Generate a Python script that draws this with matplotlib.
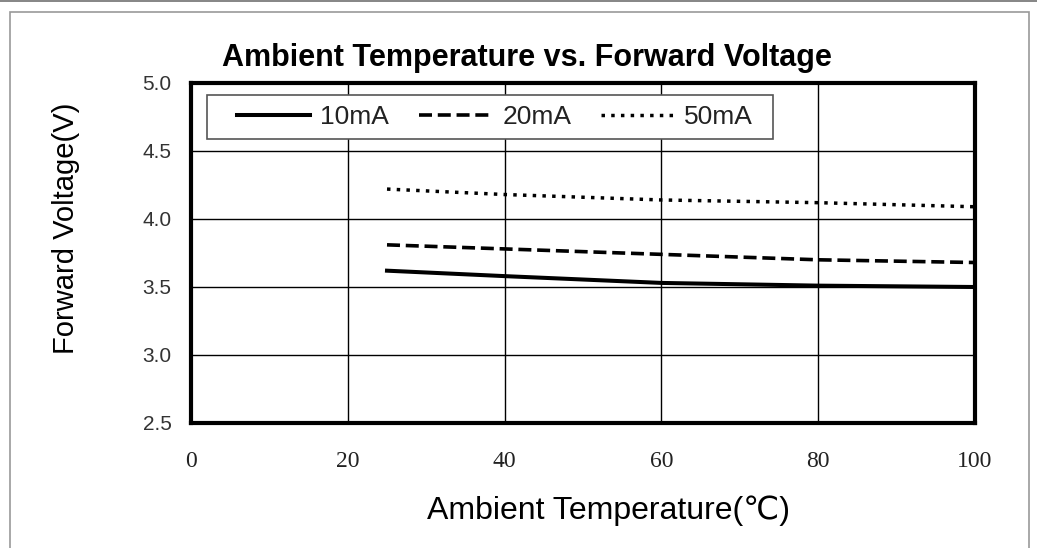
import numpy as np
import matplotlib.pyplot as plt
from matplotlib.patches import Rectangle

# values
temps = [25, 40, 60, 80, 100]
vf_10ma = [3.62, 3.58, 3.53, 3.51, 3.50]
vf_20ma = [3.81, 3.78, 3.74, 3.70, 3.68]
vf_50ma = [4.22, 4.18, 4.14, 4.12, 4.09]

x_ticks = [0, 20, 40, 60, 80, 100]
y_ticks = [2.5, 3.0, 3.5, 4.0, 4.5, 5.0]

sans = ['Liberation Sans', 'DejaVu Sans']

fig = plt.figure(figsize=(10.37, 5.48), dpi=100)
ax = fig.add_axes([191 / 1037, 1 - 423 / 548, (975 - 191) / 1037, (423 - 83) / 548])

# outer frame of the picture
fig.patches.append(Rectangle((0, 1 - 2 / 548), 1, 2 / 548, transform=fig.transFigure,
                             facecolor='#888888', edgecolor='none'))
fig.patches.append(Rectangle((10 / 1037, -0.01), 1019 / 1037, 1 - 12 / 548 + 0.01,
                             transform=fig.transFigure, fill=False,
                             edgecolor='#999999', linewidth=1.2))

ax.plot(temps, vf_10ma, color='black', linewidth=2.9, linestyle='-', label='10mA')
ax.plot(temps, vf_20ma, color='black', linewidth=2.6, linestyle=(0, (3.6, 1.6)), label='20mA')
ax.plot(temps, vf_50ma, color='black', linewidth=2.5, linestyle=(0, (1.0, 1.8)), label='50mA')

ax.set_xlim(0, 100)
ax.set_ylim(2.5, 5.0)
ax.set_xticks(x_ticks)
ax.set_yticks(y_ticks)
ax.set_xticklabels([str(t) for t in x_ticks], family='Liberation Serif', fontsize=17, color='#222222')
ax.set_yticklabels([f'{v:.1f}' for v in y_ticks], family=sans, fontsize=15, color='#333333')
ax.tick_params(length=0, pad=14)
ax.tick_params(axis='x', pad=20)

ax.grid(True, color='black', linewidth=1.0)
ax.set_axisbelow(True)
for s in ax.spines.values():
    s.set_linewidth(3)
    s.set_color('black')

ax.set_title('Ambient Temperature vs. Forward Voltage', family=sans, fontsize=22,
             fontweight='bold', x=0.4286, pad=12)
ax.set_ylabel('Forward Voltage(V)', family=sans, fontsize=21)
ax.yaxis.set_label_coords(-0.1416, 0.574)
ax.set_xlabel('Ambient Temperature(℃)', family=sans, fontsize=23)
ax.xaxis.set_label_coords(0.533, -0.212)

# legend box drawn on its own, entries placed inside it
ax.add_patch(Rectangle((0.0204, 0.835), 0.722, 0.13, transform=ax.transAxes,
                       facecolor='white', edgecolor='#555555', linewidth=1.2, zorder=4))
leg = ax.legend(loc='center left', ncol=3, bbox_to_anchor=(0.0587, 0.90), frameon=False,
                prop={'family': sans, 'size': 19}, handlelength=2.77, handletextpad=0.38,
                columnspacing=1.14, borderpad=0, borderaxespad=0)
leg.set_zorder(5)
for t in leg.get_texts():
    t.set_color('#222222')

fig.savefig('out.png', dpi=100)
